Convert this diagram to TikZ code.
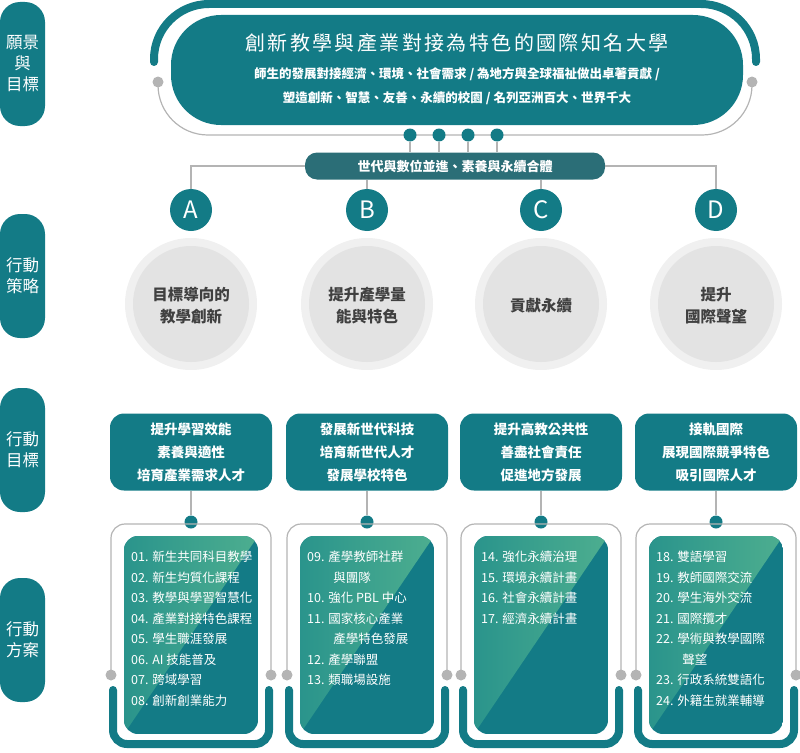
\documentclass[tikz,border=0pt]{standalone}
\usepackage{fontspec}
\setmainfont{Noto Sans CJK TC}
\newfontfamily\spacedfont[LetterSpace=12]{Noto Sans CJK TC}
\usetikzlibrary{positioning, calc}
\definecolor{teal1}{HTML}{137B86}
\definecolor{teal2}{HTML}{2B6E77}
\definecolor{green1}{HTML}{4DAE8F}
\definecolor{green2}{HTML}{2A948C}
\definecolor{ring}{HTML}{B4B4B4}

\tikzset{
  sidelabel/.style={fill=teal1, rounded corners=20pt, minimum width=45pt, minimum height=124pt,
    text=white, font=\fontsize{16.5}{21}\selectfont, align=center, inner sep=0pt},
  goalbox/.style={fill=teal1, rounded corners=14pt, minimum width=162pt, minimum height=77pt,
    text=white, font=\bfseries\fontsize{13.5}{23}\selectfont, align=center, inner sep=0pt},
  letter/.style={circle, fill=teal1, minimum size=42pt, text=white, font=\fontsize{24}{24}\selectfont, inner sep=0pt},
  strategy/.style={circle, fill=gray!12, minimum size=132pt, text=black!75, font=\bfseries\fontsize{15}{22}\selectfont, align=center, inner sep=0pt},
  tealdot/.style={circle, fill=teal1, minimum size=13pt, inner sep=0pt},
  graydot/.style={circle, fill=ring, minimum size=11pt, inner sep=0pt},
  thin/.style={draw=ring, line width=1.2pt},
  thick band/.style={draw=teal1, line width=8pt, line cap=round},
  plan/.style={text=white, font=\fontsize{12.5}{20.5}\selectfont, align=left, anchor=north west, inner sep=0pt}
}

\newcommand{\planbox}[3]{% center x, name, text
  \begin{scope}
    \clip[rounded corners=14pt] (#1-67,536) rectangle (#1+67,734);
    \fill[teal1] (#1-67,536) rectangle (#1+67,734);
    \shade[left color=green2, right color=green1] (#1-67,536) -- (#1+67,536) -- (#1-67,734) -- cycle;
  \end{scope}
  \node[plan] (#2) at (#1-60,551) {#3};
  \draw[thin, rounded corners=14pt] (#1-80,675) -- (#1-80,524) -- (#1+80,524) -- (#1+80,675);
  \node[graydot] at (#1-80,675) {};
  \node[graydot] at (#1+80,675) {};
  \draw[thick band, rounded corners=14pt] (#1-78,690) -- (#1-78,744) -- (#1+78,744) -- (#1+78,690);
}

\begin{document}
\begin{tikzpicture}[x=1pt, y=-1pt]
  \useasboundingbox (0,0) rectangle (800,752);

  % side labels
  \node[sidelabel] (vision) at (22.5,64) {願景\\與\\目標};
  \node[sidelabel] (strat) at (22.5,276) {行動\\策略};
  \node[sidelabel] (aim) at (22.5,450) {行動\\目標};
  \node[sidelabel] (act) at (22.5,640) {行動\\方案};

  % vision block
  \draw[thick band, rounded corners=55pt] (154,62) -- (154,4) -- (756,4) -- (756,62);
  \draw[thin, rounded corners=50pt] (158,82) -- (158,135) -- (752,135) -- (752,82);
  \node[graydot] (gl) at (158,82) {};
  \node[graydot] (gr) at (752,82) {};
  \node[fill=teal1, rounded corners=50pt, minimum width=572pt, minimum height=110pt, inner sep=0pt] (main) at (457,70) {};
  \node[text=white, font=\spacedfont\fontsize{20}{24}\selectfont] (title) at (457,43) {創新教學與產業對接為特色的國際知名大學};
  \node[text=white, font=\bfseries\fontsize{12.5}{24}\selectfont, align=center] (sub) at (457,86)
    {師生的發展對接經濟、環境、社會需求 / 為地方與全球福祉做出卓著貢獻 /\\塑造創新、智慧、友善、永續的校園 / 名列亞洲百大、世界千大};

  % connector bar
  \node[fill=teal2, rounded corners=12pt, minimum width=300pt, minimum height=27pt, text=white,
    font=\bfseries\fontsize{13}{16}\selectfont, inner sep=0pt] (bar) at (455,166) {世代與數位並進、素養與永續合體};
  \foreach \x [count=\i] in {410,439,468,497} {
    \node[tealdot] (top\i) at (\x,135) {};
    \draw[thin] (top\i) -- (top\i |- bar.north);
  }

  % strategies
  \foreach \x/\L/\s/\g [count=\i] in {
      191/A/{目標導向的\\教學創新}/{提升學習效能\\素養與適性\\培育產業需求人才},
      367/B/{提升產學量\\能與特色}/{發展新世代科技\\培育新世代人才\\發展學校特色},
      541/C/{貢獻永續}/{提升高教公共性\\善盡社會責任\\促進地方發展},
      716/D/{提升\\國際聲望}/{接軌國際\\展現國際競爭特色\\吸引國際人才}} {
    \node[letter] (let\i) at (\x,210) {\L};
    \node[strategy] (st\i) at (\x,304) {};
    \node[circle, fill=gray!22, minimum size=116pt] at (st\i) {};
    \node[text=black!75, font=\bfseries\fontsize{15.5}{22}\selectfont, align=center] at (\x,306) {\s};
    \node[goalbox] (goal\i) at (\x,452) {\g};
    \node[tealdot] (pd\i) at (\x,522) {};
    \draw[thin] (goal\i) -- (pd\i);
  }
  \draw[thin] (bar.west) -| (let1);
  \draw[thin] (bar.east) -| (let4);
  \draw[thin] (let2 |- bar.south) -- (let2);
  \draw[thin] (let3 |- bar.south) -- (let3);

  % action plans
  \planbox{191}{planA}{01. 新生共同科目教學\\02. 新生均質化課程\\03. 教學與學習智慧化\\04. 產業對接特色課程\\05. 學生職涯發展\\06. AI 技能普及\\07. 跨域學習\\08. 創新創業能力}
  \planbox{367}{planB}{09. 產學教師社群\\\hspace*{2.1em}與團隊\\10. 強化 PBL 中心\\11. 國家核心產業\\\hspace*{2.1em}產學特色發展\\12. 產學聯盟\\13. 類職場設施}
  \planbox{541}{planC}{14. 強化永續治理\\15. 環境永續計畫\\16. 社會永續計畫\\17. 經濟永續計畫}
  \planbox{716}{planD}{18. 雙語學習\\19. 教師國際交流\\20. 學生海外交流\\21. 國際攬才\\22. 學術與教學國際\\\hspace*{2.1em}聲望\\23. 行政系統雙語化\\24. 外籍生就業輔導}
\end{tikzpicture}
\end{document}
